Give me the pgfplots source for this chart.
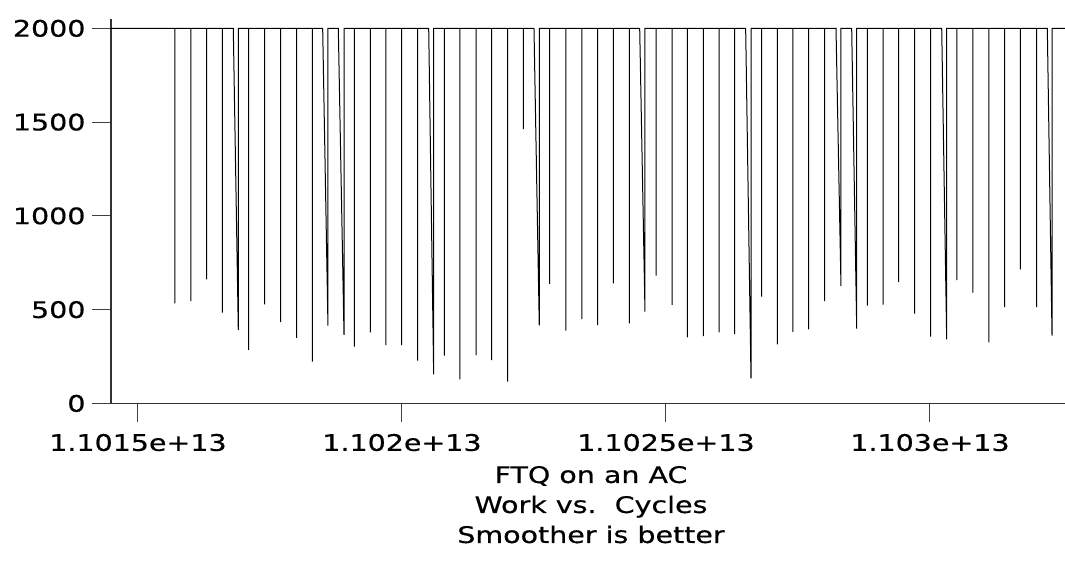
\documentclass[border=0pt]{standalone}
\usepackage{fontspec}
\setmainfont[FakeStretch=1.25,FakeBold=0.5]{DejaVu Sans}
\usepackage{pgfplots}
\pgfplotsset{compat=1.18}
\newcommand\chartfont{\fontsize{22.8}{30}\selectfont}
\begin{document}
\begin{tikzpicture}[x=1pt,y=1pt]
\path[use as bounding box] (0,0) rectangle (1065,561);
\begin{axis}[
  at={(111pt,157.6pt)}, anchor=south west,
  scale only axis, width=954pt, height=384.4pt,
  xmin=-0.511, xmax=17.557, ymin=0, ymax=2050,
  axis lines*=left,
  axis line style={line width=1.2pt, black!80},
  tick align=outside,
  major tick length=19pt,
  tick style={line width=1pt, black!75},
  xtick={0,5,10,15},
  xticklabels={1.1015e+13,1.102e+13,1.1025e+13,1.103e+13},
  ytick={0,500,1000,1500,2000},
  yticklabels={0,500,1000,1500,2000},
  /pgf/number format/assume math mode=true,
  ticklabel style={font=\chartfont},
  xticklabel style={yshift=-8pt},
  yticklabel style={xshift=-3pt},
  xlabel={FTQ on an AC\\Work vs.\ \ Cycles\\Smoother is better},
  xlabel style={font=\chartfont, align=center, xshift=3pt, yshift=-8pt},
]
\addplot[black, line width=1pt] coordinates {
(-0.511,2000)
(0.701,2000)(0.701,534)(0.701,2000)
(1.004,2000)(1.004,546)(1.004,2000)
(1.301,2000)(1.301,662)(1.301,2000)
(1.597,2000)(1.597,484)(1.597,2000)
(1.805,2000)(1.900,391)(1.900,2000)
(2.097,2000)(2.097,285)(2.097,2000)
(2.400,2000)(2.400,528)(2.400,2000)
(2.703,2000)(2.703,434)(2.703,2000)
(3.006,2000)(3.006,349)(3.006,2000)
(3.301,2000)(3.301,223)(3.301,2000)
(3.498,2000)(3.598,415)(3.598,2000)
(3.794,2000)(3.902,365)(3.902,2000)
(4.097,2000)(4.097,303)(4.097,2000)
(4.400,2000)(4.400,379)(4.400,2000)
(4.697,2000)(4.697,311)(4.697,2000)
(4.994,2000)(4.994,311)(4.994,2000)
(5.297,2000)(5.297,228)(5.297,2000)
(5.506,2000)(5.600,155)(5.600,2000)
(5.801,2000)(5.801,255)(5.801,2000)
(6.098,2000)(6.098,128)(6.098,2000)
(6.402,2000)(6.402,258)(6.402,2000)
(6.699,2000)(6.699,231)(6.699,2000)
(7.002,2000)(7.002,116)(7.002,2000)
(7.297,2000)(7.297,1463)(7.297,2000)
(7.500,2000)(7.600,416)(7.600,2000)
(7.797,2000)(7.797,637)(7.797,2000)
(8.106,2000)(8.106,388)(8.106,2000)
(8.409,2000)(8.409,450)(8.409,2000)
(8.706,2000)(8.706,418)(8.706,2000)
(9.002,2000)(9.002,640)(9.002,2000)
(9.305,2000)(9.305,427)(9.305,2000)
(9.502,2000)(9.602,489)(9.602,2000)
(9.811,2000)(9.811,681)(9.811,2000)
(10.114,2000)(10.114,525)(10.114,2000)
(10.403,2000)(10.403,352)(10.403,2000)
(10.706,2000)(10.706,359)(10.706,2000)
(11.004,2000)(11.004,379)(11.004,2000)
(11.301,2000)(11.301,370)(11.301,2000)
(11.509,2000)(11.610,134)(11.610,2000)
(11.812,2000)(11.812,569)(11.812,2000)
(12.108,2000)(12.108,315)(12.108,2000)
(12.405,2000)(12.405,381)(12.405,2000)
(12.703,2000)(12.703,395)(12.703,2000)
(13.006,2000)(13.006,546)(13.006,2000)
(13.220,2000)(13.314,626)(13.314,2000)
(13.517,2000)(13.612,399)(13.612,2000)
(13.812,2000)(13.812,521)(13.812,2000)
(14.110,2000)(14.110,527)(14.110,2000)
(14.407,2000)(14.407,647)(14.407,2000)
(14.710,2000)(14.710,479)(14.710,2000)
(15.013,2000)(15.013,356)(15.013,2000)
(15.222,2000)(15.316,342)(15.316,2000)
(15.511,2000)(15.511,658)(15.511,2000)
(15.814,2000)(15.814,591)(15.814,2000)
(16.117,2000)(16.117,326)(16.117,2000)
(16.415,2000)(16.415,513)(16.415,2000)
(16.710,2000)(16.710,715)(16.710,2000)
(17.021,2000)(17.021,513)(17.021,2000)
(17.222,2000)(17.311,361)(17.311,2000)
(17.557,2000)
};
\end{axis}
\end{tikzpicture}
\end{document}
